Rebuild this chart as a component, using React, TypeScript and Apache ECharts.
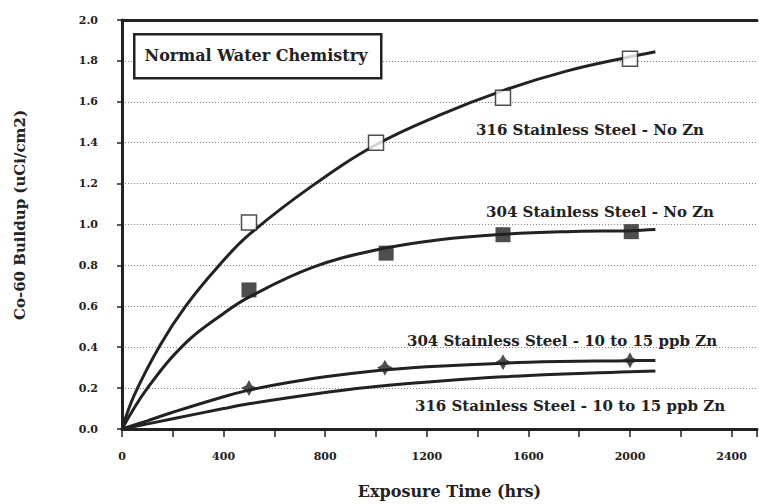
import React, { useEffect, useRef } from "react";
import * as echarts from "echarts";

const ss316NoZnPts: [number, number][] = [[500, 1.01], [1000, 1.40], [1500, 1.62], [2000, 1.81]];
const ss316NoZnCurve: [number, number][] = [[0, 0], [50, 0.17], [150, 0.41], [250, 0.6], [375, 0.79], [500, 0.95], [750, 1.19], [1000, 1.39], [1250, 1.535], [1500, 1.655], [1750, 1.75], [2000, 1.82], [2100, 1.845]];
const ss304NoZnPts: [number, number][] = [[500, 0.68], [1040, 0.86], [1500, 0.95], [2005, 0.965]];
const ss304NoZnCurve: [number, number][] = [[0, 0], [100, 0.2], [250, 0.42], [400, 0.565], [500, 0.645], [750, 0.79], [1000, 0.875], [1250, 0.925], [1500, 0.952], [1750, 0.965], [2000, 0.97], [2100, 0.975]];
const ss304ZnPts: [number, number][] = [[500, 0.2], [1035, 0.3], [1500, 0.327], [2000, 0.336]];
const ss304ZnCurve: [number, number][] = [[0, 0], [100, 0.04], [200, 0.082], [400, 0.158], [500, 0.19], [600, 0.215], [800, 0.255], [1000, 0.285], [1200, 0.305], [1600, 0.326], [2000, 0.334], [2100, 0.335]];
const ss316ZnCurve: [number, number][] = [[0, 0], [200, 0.05], [400, 0.1], [500, 0.123], [800, 0.178], [1000, 0.208], [1500, 0.255], [2000, 0.28], [2100, 0.284]];
const xTicks = [0, 400, 800, 1200, 1600, 2000, 2400];
const yTicks = [0, 0.2, 0.4, 0.6, 0.8, 1.0, 1.2, 1.4, 1.6, 1.8, 2.0];

const INK = "#222";
const FONT = "DejaVu Serif";
const STAR = "path://M0,-10 L3.5,-3.5 L10,0 L3.5,3.5 L0,10 L-3.5,3.5 L-10,0 L-3.5,-3.5 Z";

export default function App() {
  const ref = useRef<HTMLDivElement>(null);
  useEffect(() => {
    if (!ref.current) return;
    const chart = echarts.init(ref.current, null, { renderer: "svg" });
    const curve = (data: [number, number][]) => ({
      type: "line", data, smooth: 0.4, showSymbol: false, symbol: "none",
      lineStyle: { color: INK, width: 3 }, z: 3,
    });
    const label = (text: string, x: number, y: number) => ({
      type: "text", x, y, z: 11,
      style: { text, fontFamily: FONT, fontWeight: "bold", fontSize: 15, fill: INK, align: "center", verticalAlign: "middle" },
    });
    chart.setOption({
      animation: false,
      backgroundColor: "#fff",
      grid: { left: 122, right: 2, top: 20, bottom: 70 },
      xAxis: [
        {
          type: "value", min: 0, max: 2500, interval: 400,
          name: "Exposure Time (hrs)", nameLocation: "middle", nameGap: 54,
          nameTextStyle: { fontFamily: FONT, fontWeight: "bold", fontSize: 16, color: INK, padding: [0, 0, 0, 20] },
          axisLine: { show: true, lineStyle: { color: INK, width: 3 } },
          axisTick: { show: true, length: 8, inside: false, lineStyle: { color: INK, width: 1.5 } },
          minorTick: { show: true, splitNumber: 2, length: 8, lineStyle: { color: INK, width: 1.5 } },
          axisLabel: {
            margin: 22, showMaxLabel: false, fontFamily: FONT, fontWeight: "bold", fontSize: 11, color: INK,
            formatter: (v: number) => (xTicks.includes(v) ? String(v) : ""),
          },
          splitLine: { show: false },
        },
        {
          type: "value", min: 0, max: 2500, position: "top",
          axisLine: { show: true, lineStyle: { color: INK, width: 3 } },
          axisTick: { show: false }, axisLabel: { show: false }, splitLine: { show: false },
        },
      ],
      yAxis: {
        type: "value", min: 0, max: 2, interval: 0.2,
        axisLine: { show: true, lineStyle: { color: INK, width: 3 } },
        axisTick: { show: true, length: 5, lineStyle: { color: INK, width: 1.5 } },
        axisLabel: {
          margin: 24, fontFamily: FONT, fontWeight: "bold", fontSize: 11, color: INK,
          formatter: (v: number) => (yTicks.some((t) => Math.abs(t - v) < 1e-6) ? v.toFixed(1) : ""),
        },
        splitLine: { show: true, lineStyle: { color: "#888", width: 1, type: [1, 2] } },
      },
      graphic: [
        {
          type: "text", x: 20, y: 215, rotation: Math.PI / 2, z: 11,
          style: { text: "Co-60 Buildup (uCi/cm2)", fontFamily: FONT, fontWeight: "bold", fontSize: 15, fill: INK, align: "center", verticalAlign: "middle" },
        },
        {
          type: "rect", left: 133, top: 33, z: 10,
          shape: { width: 247, height: 44 },
          style: { fill: "#fff", stroke: INK, lineWidth: 2.5 },
        },
        {
          type: "text", x: 256, y: 55, z: 11,
          style: { text: "Normal Water Chemistry", fontFamily: FONT, fontWeight: "bold", fontSize: 16, fill: INK, align: "center", verticalAlign: "middle" },
        },
        label("316 Stainless Steel - No Zn", 590, 130),
        label("304 Stainless Steel - No Zn", 600, 212),
        label("304 Stainless Steel - 10 to 15 ppb Zn", 562, 341),
        label("316 Stainless Steel - 10 to 15 ppb Zn", 570, 406),
      ],
      series: [
        curve(ss316NoZnCurve),
        curve(ss304NoZnCurve),
        curve(ss304ZnCurve),
        curve(ss316ZnCurve),
        {
          type: "scatter", data: ss316NoZnPts, symbol: "rect", symbolSize: 15, z: 4,
          itemStyle: { color: "#fff", borderColor: INK, borderWidth: 1.5 },
        },
        {
          type: "scatter", data: ss304NoZnPts, symbol: "rect", symbolSize: 15, z: 4,
          itemStyle: { color: INK },
        },
        {
          type: "scatter", data: ss304ZnPts, symbol: STAR, symbolSize: 16, z: 4,
          itemStyle: { color: INK },
        },
      ],
    });
    return () => chart.dispose();
  }, []);
  return <div ref={ref} style={{ width: 759, height: 504, position: "absolute", left: 0, top: 0 }} />;
}
